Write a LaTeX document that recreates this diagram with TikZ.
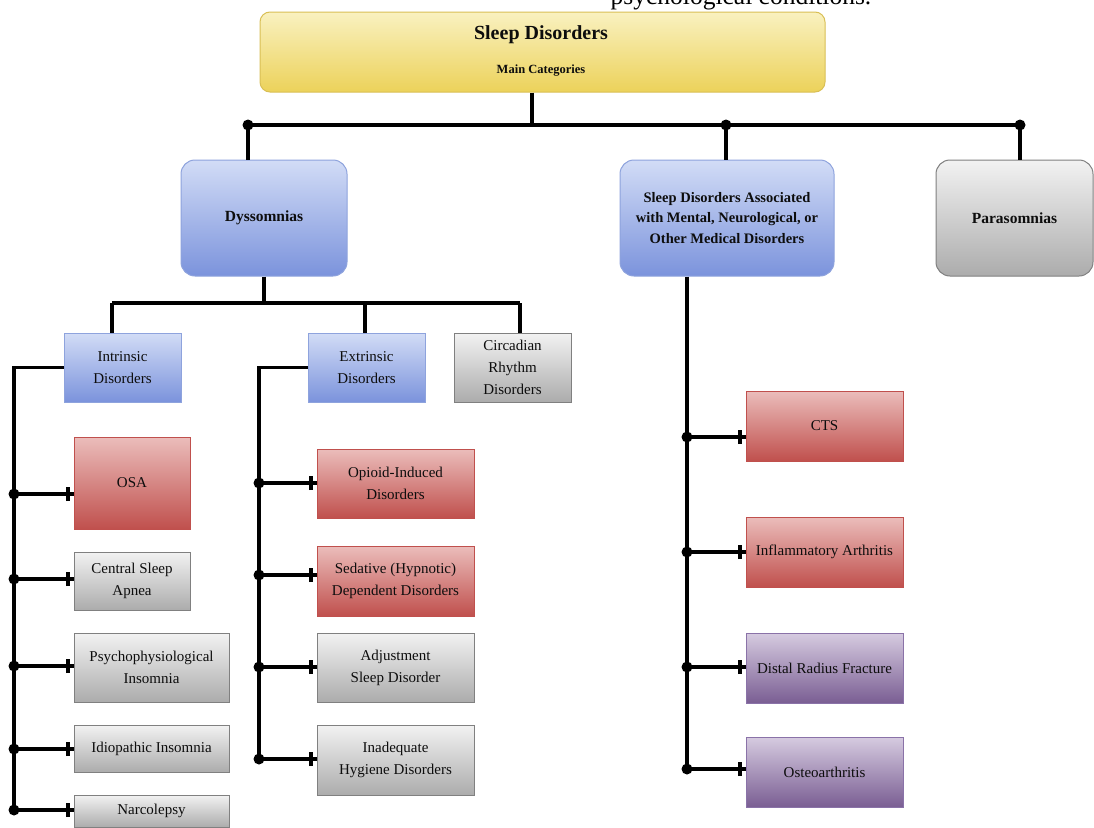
\documentclass[tikz,border=0pt]{standalone}
\usepackage{fontspec}
\setmainfont{Liberation Serif}
\usetikzlibrary{decorations.markings}
\definecolor{txt}{HTML}{0D0D0D}
\definecolor{yeltop}{HTML}{F9F1C0}
\definecolor{yelbot}{HTML}{ECD25A}
\definecolor{yelline}{HTML}{D9BF55}
\definecolor{bluetop}{HTML}{D2DCF6}
\definecolor{bluebot}{HTML}{7B93DC}
\definecolor{blueline}{HTML}{8EA3DD}
\definecolor{graytop}{HTML}{F2F2F2}
\definecolor{graybot}{HTML}{ACACAC}
\definecolor{grayline}{HTML}{808080}
\definecolor{redtop}{HTML}{EBBDBB}
\definecolor{redbot}{HTML}{C0504D}
\definecolor{redline}{HTML}{C0504D}
\definecolor{purtop}{HTML}{D6CBE0}
\definecolor{purbot}{HTML}{7A5E93}
\definecolor{purline}{HTML}{8A72A8}
\tikzset{
  box/.style={draw, line width=1pt, align=center, inner sep=1pt, text=txt,
    font=\fontsize{15}{22}\selectfont},
  catbox/.style={box, rounded corners=14pt, font=\fontsize{15.5}{20.5}\selectfont\bfseries},
  fillyel/.style={top color=yeltop, bottom color=yelbot, draw=yelline},
  fillblue/.style={top color=bluetop, bottom color=bluebot, draw=blueline},
  fillgray/.style={top color=graytop, bottom color=graybot, draw=grayline},
  fillred/.style={top color=redtop, bottom color=redbot, draw=redline},
  fillpur/.style={top color=purtop, bottom color=purbot, draw=purline},
  conn/.style={line width=3.8pt, black, line join=miter},
  branch/.style={conn, postaction={decorate},
    decoration={markings, mark=at position -6pt with {\draw[line width=4pt] (0,-7pt) -- (0,7pt);}}},
}
\begin{document}
\begin{tikzpicture}[x=1pt,y=-1pt]
\useasboundingbox (0,0) rectangle (1094,827);
\clip (0,0) rectangle (1094,827);
\fill[white] (0,0) rectangle (1094,827);

\node[anchor=base, text=black, font=\fontsize{25.5}{30}\selectfont] (cut) at (741,5) {psychological conditions.};

% boxes
\node[box, fillyel, rounded corners=10pt, minimum width=565, minimum height=80] (top) at (542.5,52) {};
\node[text=txt, font=\fontsize{20}{24}\selectfont\bfseries] (t1) at (541,35) {Sleep Disorders};
\node[text=txt, font=\fontsize{12.5}{15}\selectfont\bfseries] (t2) at (541,71) {Main Categories};

\node[catbox, fillblue, minimum width=166, minimum height=116] (dys) at (264,218) {Dyssomnias};
\node[catbox, fillblue, minimum width=214, minimum height=116, font=\fontsize{14.5}{20.5}\selectfont\bfseries] (assoc) at (727,218) {Sleep Disorders Associated\\with Mental, Neurological, or\\Other Medical Disorders};
\node[catbox, fillgray, minimum width=157, minimum height=116] (para) at (1014.5,218) {Parasomnias};

\node[box, fillblue, minimum width=117, minimum height=69] (intr) at (122.5,367.5) {Intrinsic\\Disorders};
\node[box, fillblue, minimum width=117, minimum height=69] (ext) at (366.5,367.5) {Extrinsic\\Disorders};
\node[box, fillgray, minimum width=117, minimum height=69] (circ) at (512.5,367.5) {Circadian\\Rhythm\\Disorders};

\node[box, fillred, minimum width=116, minimum height=92] (osa) at (132,483) {OSA};
\node[box, fillgray, minimum width=116, minimum height=58] (csa) at (132,581) {Central Sleep\\Apnea};
\node[box, fillgray, minimum width=155, minimum height=69] (psy) at (151.5,667.5) {Psychophysiological\\Insomnia};
\node[box, fillgray, minimum width=155, minimum height=47] (idio) at (151.5,748.5) {Idiopathic Insomnia};
\node[box, fillgray, minimum width=155, minimum height=32] (narc) at (151.5,811) {Narcolepsy};

\node[box, fillred, minimum width=157, minimum height=69] (opi) at (395.5,483.5) {Opioid-Induced\\Disorders};
\node[box, fillred, minimum width=157, minimum height=70] (sed) at (395.5,581) {Sedative (Hypnotic)\\Dependent Disorders};
\node[box, fillgray, minimum width=157, minimum height=69] (adj) at (395.5,667.5) {Adjustment\\Sleep Disorder};
\node[box, fillgray, minimum width=157, minimum height=70] (inad) at (395.5,760) {Inadequate\\Hygiene Disorders};

\node[box, fillred, minimum width=157, minimum height=70] (cts) at (824.5,426) {CTS};
\node[box, fillred, minimum width=157, minimum height=70] (infl) at (824.5,552) {Inflammatory Arthritis};
\node[box, fillpur, minimum width=157, minimum height=70] (dist) at (824.5,668) {Distal Radius Fracture};
\node[box, fillpur, minimum width=157, minimum height=70] (oste) at (824.5,772) {Osteoarthritis};

% top level bus
\coordinate (tj) at (532,125);
\coordinate (bL) at (248,125);
\coordinate (bM) at (726,125);
\coordinate (bR) at (1020,125);
\draw[conn] (top.south -| tj) -- (tj);
\draw[conn] (bL) -- (bR);
\draw[conn] (bL) -- (bL |- dys.north);
\draw[conn] (bM) -- (bM |- assoc.north);
\draw[conn] (bR) -- (bR |- para.north);
\foreach \p in {bL,bM,bR} \fill (\p) circle (5.5pt);

% dyssomnias bus
\coordinate (dj) at (264,303);
\coordinate (dL) at (112,303);
\coordinate (dM) at (365,303);
\coordinate (dR) at (520,303);
\draw[conn] (dys.south) -- (dj);
\draw[conn] (dL) -- (dR);
\draw[conn] (dL) -- (dL |- intr.north);
\draw[conn] (dM) -- (dM |- ext.north);
\draw[conn] (dR) -- (dR |- circ.north);

% intrinsic spine
\coordinate (s1) at (14,494);
\coordinate (s2) at (14,579);
\coordinate (s3) at (14,666);
\coordinate (s4) at (14,749);
\coordinate (s5) at (14,810);
\draw[conn] (intr.west) -| (s5);
\draw[branch] (s1) -- (s1 -| osa.west);
\draw[branch] (s2) -- (s2 -| csa.west);
\draw[branch] (s3) -- (s3 -| psy.west);
\draw[branch] (s4) -- (s4 -| idio.west);
\draw[branch] (s5) -- (s5 -| narc.west);
\foreach \p in {s1,s2,s3,s4,s5} \fill (\p) circle (5.5pt);

% extrinsic spine
\coordinate (e1) at (259,483);
\coordinate (e2) at (259,575);
\coordinate (e3) at (259,667);
\coordinate (e4) at (259,759);
\draw[conn] (ext.west) -| (e4);
\draw[branch] (e1) -- (e1 -| opi.west);
\draw[branch] (e2) -- (e2 -| sed.west);
\draw[branch] (e3) -- (e3 -| adj.west);
\draw[branch] (e4) -- (e4 -| inad.west);
\foreach \p in {e1,e2,e3,e4} \fill (\p) circle (5.5pt);

% associated spine
\coordinate (a1) at (687,437);
\coordinate (a2) at (687,552);
\coordinate (a3) at (687,667);
\coordinate (a4) at (687,769);
\draw[conn] (a4 |- assoc.south) -- (a4);
\draw[branch] (a1) -- (a1 -| cts.west);
\draw[branch] (a2) -- (a2 -| infl.west);
\draw[branch] (a3) -- (a3 -| dist.west);
\draw[branch] (a4) -- (a4 -| oste.west);
\foreach \p in {a1,a2,a3,a4} \fill (\p) circle (5.5pt);
\end{tikzpicture}
\end{document}
